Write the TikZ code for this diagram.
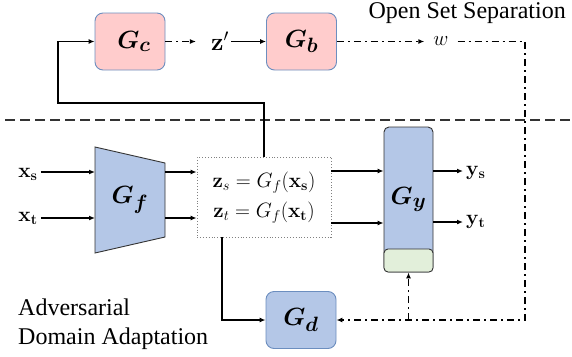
\documentclass[tikz,border=0pt]{standalone}
\usepackage[no-math]{fontspec}
\setmainfont{Liberation Serif}
\usepackage{amsmath,bm}
\usetikzlibrary{arrows.meta,calc}
\definecolor{pinkfill}{HTML}{FFCCCC}
\definecolor{bluefill}{HTML}{B4C7E7}
\definecolor{greenfill}{HTML}{E2EFDA}
\definecolor{edgeblue}{HTML}{6C8EBF}
\definecolor{edgedark}{HTML}{333333}
\begin{document}
\begin{tikzpicture}[x=1pt,y=-1pt,
  gbox/.style={draw=edgeblue, line width=0.9pt, rounded corners=8pt, minimum width=70pt, minimum height=57pt, inner sep=0pt, font=\fontsize{29}{29}\selectfont},
  arr/.style={-{Latex[length=6pt,width=5pt]}, line width=1.3pt},
  dd/.style={line width=1.3pt, dash pattern=on 7pt off 4pt on 2pt off 4pt},
  lbl/.style={font=\fontsize{21}{21}\selectfont, inner sep=3pt},
  txt/.style={font=\fontsize{24}{24}\selectfont, inner sep=0pt},
]
\useasboundingbox (0,0) rectangle (572,356);

% top boxes
\node[gbox, fill=pinkfill] (gc) at (130,41.5) {\hspace*{8pt}$\boldsymbol{G_c}$};
\node[gbox, fill=pinkfill] (gb) at (301.5,41.5) {$\boldsymbol{G_b}$};
\node[font=\fontsize{24}{24}\selectfont, inner sep=2pt] (zp) at (220,41.5) {$\mathbf{z}'$};
\node[font=\fontsize{20}{20}\selectfont, inner xsep=9pt, inner ysep=2pt] (w) at (441,41.5) {$w$};
\node[txt, anchor=base east] (oss) at (566,18) {Open Set Separation};

% divider
\draw[line width=1.3pt, draw=edgedark, dash pattern=on 10pt off 5pt] (5,120) -- (572,120);

% feature extractor
\draw[draw=edgedark, line width=0.9pt, fill=bluefill] (95,147) -- (165,163) -- (165,237) -- (95,253) -- cycle;
\node[font=\fontsize{29}{29}\selectfont] (gf) at (130,200) {$\boldsymbol{G_f}$};
\coordinate (gfl1) at (95,172);
\coordinate (gfl2) at (95,218);
\coordinate (gfr1) at (165,172);
\coordinate (gfr2) at (165,218);

\node[lbl] (xs) at (28,174) {$\mathbf{x_s}$};
\node[lbl] (xt) at (28,218) {$\mathbf{x_t}$};

% dotted box
\node[draw=gray, dotted, line width=0.9pt, minimum width=134pt, minimum height=80pt] (zbox) at (264,197) {};
\node[font=\fontsize{21}{21}\selectfont] (zs) at (264,183) {$\mathbf{z}_s = G_f(\mathbf{x_s})$};
\node[font=\fontsize{21}{21}\selectfont] (zt) at (264,213) {$\mathbf{z}_t = G_f(\mathbf{x_t})$};

% classifier
\node[draw=edgedark, line width=0.9pt, rounded corners=5pt, fill=bluefill, minimum width=49pt, minimum height=145pt, inner sep=0pt, font=\fontsize{29}{29}\selectfont] (gy) at (408.5,199.5) {$\boldsymbol{G_y}$};
\node[draw=edgedark, line width=0.9pt, rounded corners=4pt, fill=greenfill, minimum width=49pt, minimum height=23pt, inner sep=0pt] (gyg) at (408.5,260.5) {};
\coordinate (r1) at (0,171);
\coordinate (r2) at (0,223);
\coordinate (o2) at (0,222);
\node[lbl, anchor=west] (ys) at (463,173) {$\mathbf{y_s}$};
\node[lbl, anchor=west] (yt) at (463,222) {$\mathbf{y_t}$};

% discriminator
\node[gbox, fill=bluefill] (gd) at (301,320) {$\boldsymbol{G_d}$};

% texts
\node[txt, anchor=base west] (adv) at (18,315) {Adversarial};
\node[txt, anchor=base west] (dom) at (18,344) {Domain Adaptation};

% connectors
\draw[dd, arr] (gc.east) -- ([xshift=-13pt]zp.west);
\draw[arr] (zp.east) -- (gb.west);
\draw[dd, arr] (gb.east) -- (w.west);
\coordinate (c3) at (525,41.5);
\draw[dd, arr] (w.east) -- (c3) |- (gd.east);
\draw[dd, arr] (gyg.south |- gd.east) -- (gyg.south);

\draw[arr] (xs.east |- gfl1) -- (gfl1);
\draw[arr] (xt.east) -- (gfl2);
\draw[arr] (gfr1) -- (zbox.west |- gfr1);
\draw[arr] (gfr2) -- (zbox.west |- gfr2);
\draw[arr] (zbox.east |- r1) -- (gy.west |- r1);
\draw[arr] (zbox.east |- r2) -- (gy.west |- r2);
\draw[arr] (gy.east |- r1) -- (ys.west |- r1);
\draw[arr] (gy.east |- o2) -- (yt.west);

\coordinate (c1) at (58,103);
\draw[arr] (zbox.north) |- (c1) |- (gc.west);
\coordinate (c2) at (222,0);
\draw[arr] (zbox.south -| c2) |- (gd.west);
\end{tikzpicture}
\end{document}
